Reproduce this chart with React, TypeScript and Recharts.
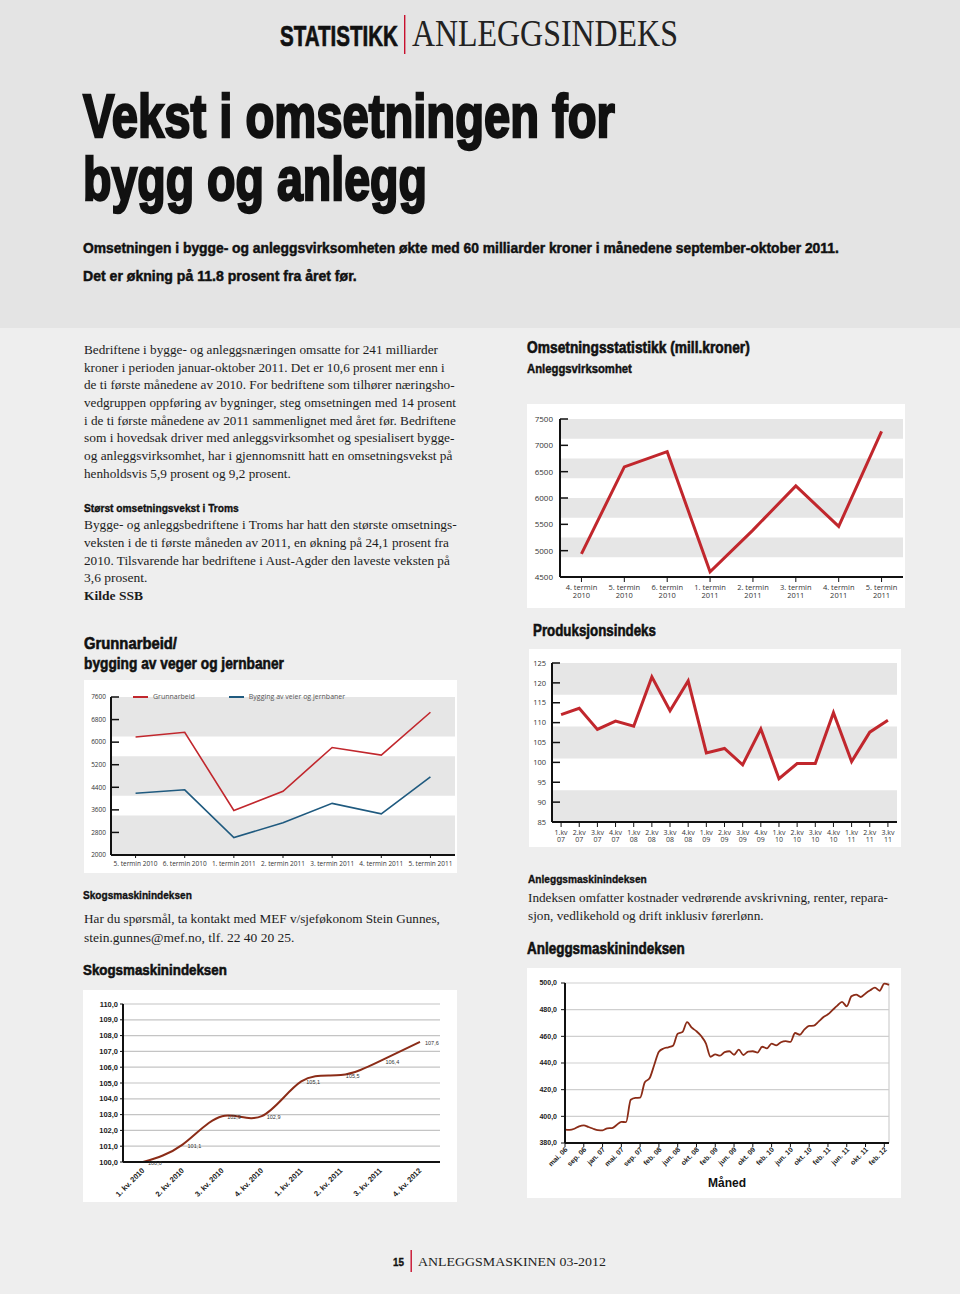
import React from 'react';
import {
  LineChart,
  Line,
  XAxis,
  YAxis,
  CartesianGrid,
  ReferenceArea,
  ReferenceLine,
  LabelList,
} from 'recharts';

// Omsetningsstatistikk (mill. kroner), anleggsvirksomhet
const terminer = ['4. termin 2010', '5. termin 2010', '6. termin 2010', '1. termin 2011', '2. termin 2011', '3. termin 2011', '4. termin 2011', '5. termin 2011'];
const omsetning = [4940, 6590, 6880, 4600, 5390, 6230, 5460, 7265];
const omsetningTicks = [4500, 5000, 5500, 6000, 6500, 7000, 7500];
const omsetningBands = [[7125, 7500], [6375, 6750], [5625, 6000], [4875, 5250]];

// Produksjonsindeks
const kvartaler = ['1.kv 07', '2.kv 07', '3.kv 07', '4.kv 07', '1.kv 08', '2.kv 08', '3.kv 08', '4.kv 08', '1.kv 09', '2.kv 09', '3.kv 09', '4.kv 09', '1.kv 10', '2.kv 10', '3.kv 10', '4.kv 10', '1.kv 11', '2.kv 11', '3.kv 11'];
const produksjon = [112.0, 113.6, 108.3, 110.4, 109.1, 121.5, 113.0, 120.5, 102.4, 103.5, 99.4, 108.4, 95.9, 99.7, 99.7, 112.5, 100.2, 107.6, 110.6];
const produksjonTicks = [85, 90, 95, 100, 105, 110, 115, 120, 125];
const produksjonBands = [[117, 125], [101, 109], [85, 93]];

// Grunnarbeid / bygging av veier og jernbaner
const grunnTerminer = ['5. termin 2010', '6. termin 2010', '1. termin 2011', '2. termin 2011', '3. termin 2011', '4. termin 2011', '5. termin 2011'];
const grunnarbeid = [6180, 6350, 3580, 4260, 5810, 5540, 7060];
const veierOgJernbaner = [4190, 4310, 2620, 3140, 3830, 3460, 4770];
const grunnTicks = [2000, 2800, 3600, 4400, 5200, 6000, 6800, 7600];
const grunnBands = [[6200, 7600], [4100, 5500], [2000, 3400]];

// Skogsmaskinindeksen
const skogKvartaler = ['1. kv. 2010', '2. kv. 2010', '3. kv. 2010', '4. kv. 2010', '1. kv. 2011', '2. kv. 2011', '3. kv. 2011', '4. kv. 2012'];
const skogIndeks = [100.0, 101.1, 102.9, 102.9, 105.1, 105.5, 106.4, 107.6];
const skogTicks = [100, 101, 102, 103, 104, 105, 106, 107, 108, 109, 110];

// Anleggsmaskinindeksen
const maaneder = [
  'mai. 06', 'jun. 06', 'jul. 06', 'aug. 06', 'sep. 06', 'okt. 06', 'nov. 06', 'des. 06',
  'jan. 07', 'feb. 07', 'mar. 07', 'apr. 07', 'mai. 07', 'jun. 07', 'jul. 07', 'aug. 07', 'sep. 07', 'okt. 07', 'nov. 07', 'des. 07',
  'feb. 08', 'mar. 08', 'apr. 08', 'mai. 08', 'jun. 08', 'jul. 08', 'aug. 08', 'sep. 08', 'okt. 08', 'nov. 08', 'des. 08',
  'jan. 09', 'feb. 09', 'mar. 09', 'apr. 09', 'mai. 09', 'jun. 09', 'jul. 09', 'aug. 09', 'sep. 09', 'okt. 09', 'nov. 09', 'des. 09',
  'jan. 10', 'feb. 10', 'mar. 10', 'apr. 10', 'mai. 10', 'jun. 10', 'jul. 10', 'aug. 10', 'sep. 10', 'okt. 10', 'nov. 10', 'des. 10',
  'jan. 11', 'feb. 11', 'mar. 11', 'apr. 11', 'mai. 11', 'jun. 11', 'jul. 11', 'aug. 11', 'sep. 11', 'okt. 11', 'nov. 11', 'des. 11',
  'jan. 12', 'feb. 12', 'mar. 12',
];
const anleggIndeks = [
  390.0, 389.8, 390.7, 392.5, 393.2, 392.0, 390.7, 389.7,
  389.5, 391.0, 391.2, 393.5, 395.9, 395.6, 412.4, 413.8, 414.0, 425.6, 428.5, 438.5,
  448.5, 450.9, 451.8, 453.0, 462.0, 463.2, 470.6, 466.5, 463.8, 460.2, 454.8,
  444.7, 446.4, 445.5, 448.2, 448.8, 446.2, 450.0, 446.0, 448.6, 448.8, 447.8, 452.2,
  451.0, 454.5, 453.2, 455.6, 456.4, 455.8, 462.5, 461.2, 465.2, 467.8, 468.0, 471.0,
  474.3, 476.5, 479.8, 483.0, 485.8, 482.5, 490.0, 491.3, 489.5, 492.2, 494.5, 496.5,
  494.2, 499.6, 498.6,
];
const anleggTicks = [380, 400, 420, 440, 460, 480, 500];

const omsetningData = terminer.map((t, i) => ({ t, v: omsetning[i] }));
const produksjonData = kvartaler.map((t, i) => ({ t, v: produksjon[i] }));
const grunnData = grunnTerminer.map((t, i) => ({ t, g: grunnarbeid[i], b: veierOgJernbaner[i] }));
const skogData = skogKvartaler.map((t, i) => ({ t, v: skogIndeks[i] }));
const anleggData = maaneder.map((t, i) => ({ t, v: anleggIndeks[i] }));

const sans = "'Liberation Sans', Arial, sans-serif";
const chartFont = "'Open Sans', 'Liberation Sans', sans-serif";
const serif = "'Liberation Serif', 'Times New Roman', serif";
const red = '#c1272d';
const band = '#e6e6e6';
const axisStyle = { stroke: '#111', strokeWidth: 2 };
const komma = (v: number) => v.toFixed(1).replace('.', ',');

// measure text so it can be squeezed to the width it has in print
const ctx = document.createElement('canvas').getContext('2d');
const squeeze = (text: string, font: string, w?: number) => {
  if (!w || !ctx) return 1;
  ctx.font = font;
  const natural = ctx.measureText(text).width;
  return natural > 0 ? w / natural : 1;
};

const Fit = ({ x, y, size, w, family, weight, fill, sw = 0, children }: any) => {
  const sx = squeeze(String(children), `${weight} ${size}px ${family}`, w);
  return (
    <text transform={`translate(${x} ${y}) scale(${sx} 1)`} fontFamily={family} fontWeight={weight} fontSize={size}
      fill={fill} stroke={sw ? fill : undefined} strokeWidth={sw || undefined}>
      {children}
    </text>
  );
};

const Head = (p: any) => <Fit family="'Liberation Sans'" weight={700} fill="#111" sw={0.4} {...p} />;
const Body = ({ bold, ...p }: any) => <Fit family="'Liberation Serif'" weight={bold ? 700 : 400} size={13.5} fill="#1c1c1c" {...p} />;

const TwoLineTick = (props: any) => {
  const { x, y, payload, size, d1, d2 } = props;
  const s = String(payload.value);
  const i = s.lastIndexOf(' ');
  return (
    <text x={x} y={y} textAnchor="middle" fontFamily={chartFont} fontSize={size} fill="#333">
      <tspan x={x} dy={d1}>{s.slice(0, i)}</tspan>
      <tspan x={x} dy={d2}>{s.slice(i + 1)}</tspan>
    </text>
  );
};

const SlantTick = (props: any) => {
  const { x, y, payload, size, dx, dy } = props;
  return (
    <g transform={`translate(${x + dx},${y + dy})`}>
      <text transform="rotate(-45)" textAnchor="end" fontFamily={sans} fontWeight={700} fontSize={size} fill="#222">
        {payload.value}
      </text>
    </g>
  );
};

const box = (left: number, top: number, width: number, height: number): React.CSSProperties => ({
  position: 'absolute', left, top, width, height, background: '#fff',
});

export default function App() {
  return (
    <div style={{ position: 'absolute', left: 0, top: 0, width: 960, height: 1294, background: '#eeeeee', overflow: 'hidden' }}>
      <div style={{ position: 'absolute', left: 0, top: 0, width: 960, height: 328, background: '#e4e4e4' }} />

      <svg width={960} height={1294} style={{ position: 'absolute', left: 0, top: 0 }}>
        <Head x={280} y={46} size={30} w={118} sw={0.7}>STATISTIKK</Head>
        <rect x={404} y={15} width={1.4} height={39} fill="#c8102e" />
        <Fit x={412} y={46} size={38} w={266} family="'Liberation Serif'" weight={400} fill="#222">ANLEGGSINDEKS</Fit>

        <Head x={83} y={137} size={61} w={532} sw={2.4}>Vekst i omsetningen for</Head>
        <Head x={83} y={200} size={61} w={344} sw={2.4}>bygg og anlegg</Head>
        <Head x={83} y={253} size={14} w={757} sw={0.45}>Omsetningen i bygge- og anleggsvirksomheten økte med 60 milliarder kroner i månedene september-oktober 2011.</Head>
        <Head x={83} y={281} size={14} w={274} sw={0.45}>Det er økning på 11.8 prosent fra året før.</Head>

        <Body x={84} y={354} w={354}>Bedriftene i bygge- og anleggsnæringen omsatte for 241 milliarder</Body>
        <Body x={84} y={371.6} w={361}>kroner i perioden januar-oktober 2011. Det er 10,6 prosent mer enn i</Body>
        <Body x={84} y={389.3} w={371}>de ti første månedene av 2010. For bedriftene som tilhører næringsho-</Body>
        <Body x={84} y={407} w={372}>vedgruppen oppføring av bygninger, steg omsetningen med 14 prosent</Body>
        <Body x={84} y={424.6} w={372}>i de ti første månedene av 2011 sammenlignet med året før. Bedriftene</Body>
        <Body x={84} y={442.3} w={371}>som i hovedsak driver med anleggsvirksomhet og spesialisert bygge-</Body>
        <Body x={84} y={460} w={369}>og anleggsvirksomhet, har i gjennomsnitt hatt en omsetningsvekst på</Body>
        <Body x={84} y={477.5} w={207}>henholdsvis 5,9 prosent og 9,2 prosent.</Body>

        <Head x={84} y={511.7} size={11.5} w={155} sw={0.35}>Størst omsetningsvekst i Troms</Head>
        <Body x={84} y={529.3} w={373}>Bygge- og anleggsbedriftene i Troms har hatt den største omsetnings-</Body>
        <Body x={84} y={547} w={365}>veksten i de ti første måneden av 2011, en økning på 24,1 prosent fra</Body>
        <Body x={84} y={564.7} w={367}>2010. Tilsvarende har bedriftene i Aust-Agder den laveste veksten på</Body>
        <Body x={84} y={582.3}>3,6 prosent.</Body>
        <Body x={84} y={600} bold>Kilde SSB</Body>

        <Head x={84} y={649} size={16} w={93} sw={0.6}>Grunnarbeid/</Head>
        <Head x={84} y={669} size={16} w={200} sw={0.6}>bygging av veger og jernbaner</Head>

        <Head x={83} y={899} size={11.5} w={109} sw={0.35}>Skogsmaskinindeksen</Head>
        <Body x={84} y={923} w={356}>Har du spørsmål, ta kontakt med MEF v/sjeføkonom Stein Gunnes,</Body>
        <Body x={84} y={942}>stein.gunnes@mef.no, tlf. 22 40 20 25.</Body>
        <Head x={83} y={975} size={15.5} w={144} sw={0.6}>Skogsmaskinindeksen</Head>

        <Head x={527} y={353} size={16} w={223} sw={0.6}>Omsetningsstatistikk (mill.kroner)</Head>
        <Head x={527} y={373} size={13.5} w={105} sw={0.45}>Anleggsvirksomhet</Head>
        <Head x={533} y={636} size={17} w={123} sw={0.6}>Produksjonsindeks</Head>
        <Head x={528} y={883} size={11.5} w={119} sw={0.35}>Anleggsmaskinindeksen</Head>
        <Body x={528} y={902} w={360}>Indeksen omfatter kostnader vedrørende avskrivning, renter, repara-</Body>
        <Body x={528} y={920} w={236}>sjon, vedlikehold og drift inklusiv førerlønn.</Body>
        <Head x={527} y={954} size={16.5} w={158} sw={0.6}>Anleggsmaskinindeksen</Head>

        <Head x={393} y={1266} size={11.5} w={11} sw={0.35}>15</Head>
        <rect x={410.5} y={1250} width={1.4} height={22} fill="#c8102e" />
        <Fit x={418} y={1266} size={13.5} w={188} family="'Liberation Serif'" weight={400} fill="#222">ANLEGGSMASKINEN 03-2012</Fit>
      </svg>

      {/* Omsetningsstatistikk */}
      <div style={box(527, 404, 378, 204)}>
        <LineChart width={378} height={204} data={omsetningData} margin={{ top: 15, right: 2, bottom: 0, left: 0 }}>
          {omsetningBands.map(([a, b]) => (
            <ReferenceArea key={a} y1={a} y2={b} fill={band} fillOpacity={1} stroke="none" />
          ))}
          <XAxis dataKey="t" scale="band" height={31} interval={0} axisLine={axisStyle}
            tickSize={5} tickMargin={2} tickLine={{ stroke: '#111' }}
            tick={(p: any) => <TwoLineTick {...p} size={7.5} d1={6} d2={8.3} />} />
          <YAxis width={33} domain={[4500, 7500]} ticks={omsetningTicks} interval={0} axisLine={axisStyle}
            tickSize={-8} tickMargin={15} tickLine={{ stroke: '#111', strokeWidth: 1.5 }}
            tick={{ fontSize: 8, fill: '#333', fontFamily: chartFont }} />
          <Line dataKey="v" stroke={red} strokeWidth={3} strokeLinejoin="miter" dot={false} activeDot={false} isAnimationActive={false} />
        </LineChart>
      </div>

      {/* Produksjonsindeks */}
      <div style={box(529, 649, 372, 198)}>
        <LineChart width={372} height={198} data={produksjonData} margin={{ top: 14, right: 4, bottom: 0, left: 0 }}>
          {produksjonBands.map(([a, b]) => (
            <ReferenceArea key={a} y1={a} y2={b} fill={band} fillOpacity={1} stroke="none" />
          ))}
          <XAxis dataKey="t" scale="band" height={25} interval={0} axisLine={axisStyle}
            tickSize={5} tickMargin={2} tickLine={{ stroke: '#111' }}
            tick={(p: any) => <TwoLineTick {...p} size={7} d1={6} d2={7} />} />
          <YAxis width={23} domain={[85, 125]} ticks={produksjonTicks} interval={0} axisLine={axisStyle}
            tickSize={-8} tickMargin={14} tickLine={{ stroke: '#111', strokeWidth: 1.5 }}
            tick={{ fontSize: 7.5, fill: '#333', fontFamily: chartFont }} />
          <Line dataKey="v" stroke={red} strokeWidth={3} strokeLinejoin="miter" dot={false} activeDot={false} isAnimationActive={false} />
        </LineChart>
      </div>

      {/* Grunnarbeid */}
      <div style={box(84, 680, 373, 193)}>
        <LineChart width={373} height={193} data={grunnData} margin={{ top: 17, right: 2, bottom: 0, left: 0 }}>
          {grunnBands.map(([a, b]) => (
            <ReferenceArea key={a} y1={a} y2={b} fill={band} fillOpacity={1} stroke="none" />
          ))}
          <XAxis dataKey="t" scale="band" height={18} interval={0} axisLine={axisStyle}
            tickSize={3} tickMargin={3} tickLine={{ stroke: '#111' }}
            tick={{ fontSize: 6.5, fill: '#333', fontFamily: chartFont }} />
          <YAxis width={27} domain={[2000, 7600]} ticks={grunnTicks} interval={0} axisLine={axisStyle}
            tickSize={-8} tickMargin={13} tickLine={{ stroke: '#111', strokeWidth: 1.5 }}
            tick={{ fontSize: 6.5, fill: '#333', fontFamily: chartFont }} />
          <Line dataKey="g" name="Grunnarbeid" stroke={red} strokeWidth={1.6} dot={false} activeDot={false} isAnimationActive={false} />
          <Line dataKey="b" name="Bygging av veier og jernbaner" stroke="#1f5a7f" strokeWidth={1.6} dot={false} activeDot={false} isAnimationActive={false} />
        </LineChart>
        <div style={{ position: 'absolute', left: 49, top: 12, display: 'flex', alignItems: 'center', fontFamily: chartFont, fontSize: 7, color: '#555' }}>
          <span style={{ width: 15, height: 2, background: red, marginRight: 5 }} />
          <span style={{ marginRight: 34 }}>Grunnarbeid</span>
          <span style={{ width: 15, height: 2, background: '#1f5a7f', marginRight: 5 }} />
          <span>Bygging av veier og jernbaner</span>
        </div>
      </div>

      {/* Skogsmaskinindeksen */}
      <div style={box(83, 990, 374, 212)}>
        <LineChart width={374} height={212} data={skogData} margin={{ top: 14, right: 17, bottom: 0, left: 0 }}>
          <CartesianGrid vertical={false} stroke="#c4c4c4" strokeWidth={1.2} />
          <XAxis dataKey="t" height={40} interval={0} padding={{ left: 20, right: 20 }} axisLine={axisStyle}
            tickLine={false} tickSize={6} tickMargin={2}
            tick={(p: any) => <SlantTick {...p} size={7.5} dx={2} dy={1} />} />
          <YAxis width={40} domain={[100, 110]} ticks={skogTicks} interval={0} axisLine={axisStyle}
            tickSize={3} tickMargin={2} tickLine={{ stroke: '#111' }} tickFormatter={komma}
            tick={{ fontSize: 7.5, fontWeight: 700, fill: '#222', fontFamily: sans }} />
          <Line type="natural" dataKey="v" stroke="#8b2c17" strokeWidth={2} dot={false} activeDot={false} isAnimationActive={false}>
            <LabelList dataKey="v" content={(p: any) => (
              <text x={p.x + 5} y={p.y + 3} fontSize={5.5} fontFamily={sans} fill="#333">{komma(Number(p.value))}</text>
            )} />
          </Line>
        </LineChart>
      </div>

      {/* Anleggsmaskinindeksen */}
      <div style={box(527, 968, 374, 230)}>
        <LineChart width={374} height={230} data={anleggData} margin={{ top: 15, right: 12, bottom: 0, left: 0 }}>
          <CartesianGrid vertical={false} stroke="#cfcfcf" strokeWidth={1.2} />
          <ReferenceLine x="mar. 12" stroke="#cfcfcf" strokeWidth={1.2} />
          <XAxis dataKey="t" height={55} interval={3} axisLine={axisStyle}
            tickSize={4} tickMargin={2} tickLine={{ stroke: '#111' }}
            tick={(p: any) => <SlantTick {...p} size={7} dx={3} dy={1} />}
            label={{ value: 'Måned', position: 'insideBottom', offset: 11, style: { fontFamily: sans, fontWeight: 700, fontSize: 12, fill: '#111' } }} />
          <YAxis width={38} domain={[380, 500]} ticks={anleggTicks} interval={0} axisLine={axisStyle}
            tickSize={4} tickMargin={4} tickLine={{ stroke: '#111' }} tickFormatter={komma}
            tick={{ fontSize: 7, fontWeight: 700, fill: '#222', fontFamily: sans }} />
          <Line type="monotone" dataKey="v" stroke="#8b2c17" strokeWidth={1.8} dot={false} activeDot={false} isAnimationActive={false} />
        </LineChart>
      </div>
    </div>
  );
}
